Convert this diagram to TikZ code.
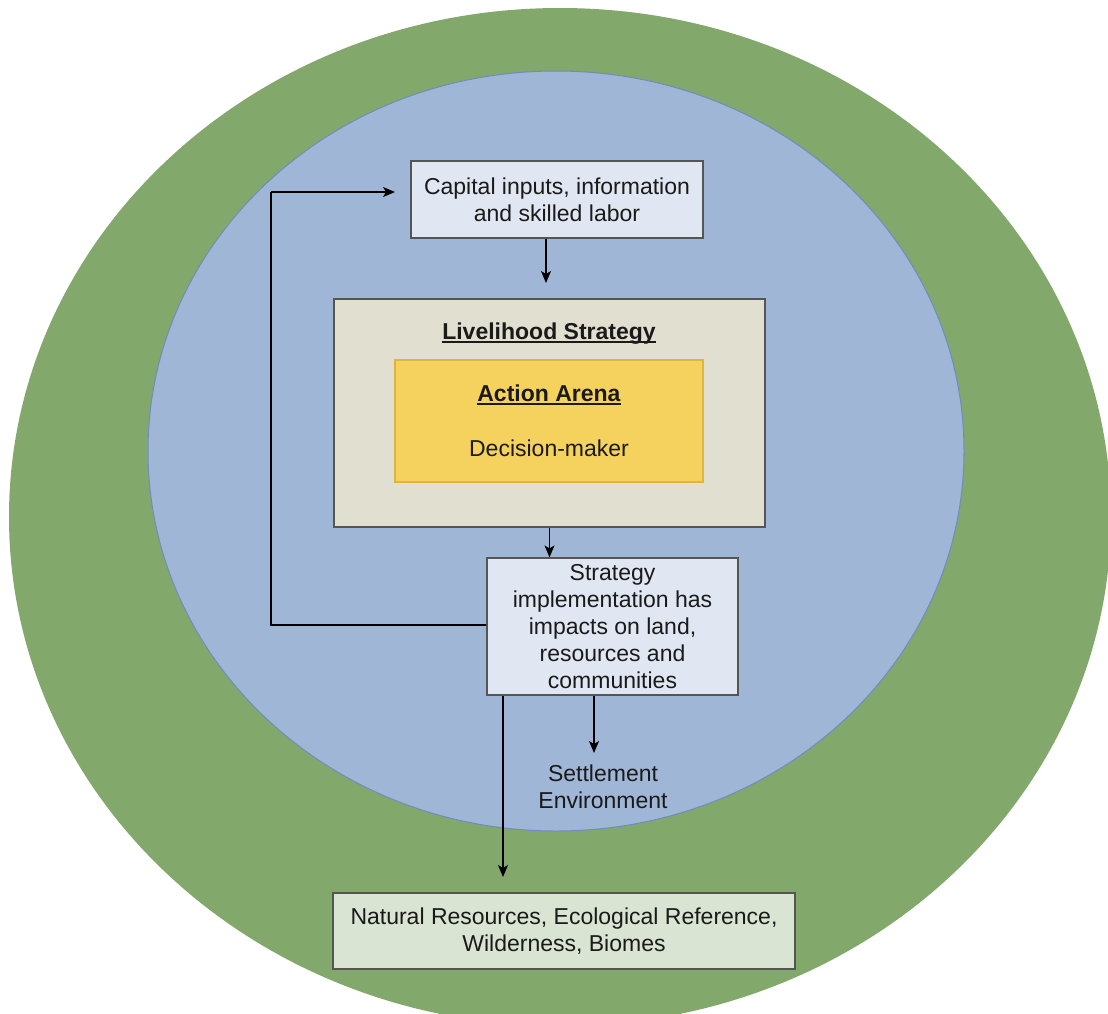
\documentclass[tikz,border=0pt]{standalone}
\usepackage{fontspec}
\setmainfont{Liberation Sans}
\usetikzlibrary{arrows.meta}
\definecolor{outergreen}{HTML}{82A96B}
\definecolor{innerblue}{HTML}{A0B6D6}
\definecolor{innerstroke}{HTML}{6C8EBF}
\definecolor{boxfill}{HTML}{E0E7F2}
\definecolor{lhfill}{HTML}{E1E0D0}
\definecolor{aafill}{HTML}{F5D25D}
\definecolor{aastroke}{HTML}{E3B43A}
\definecolor{natfill}{HTML}{DAE4D2}
\definecolor{boxstroke}{HTML}{555555}
\definecolor{txt}{HTML}{1A1A1A}
\tikzset{
  box/.style={draw=boxstroke, line width=1.2pt, inner sep=0pt, align=center, text=txt,
    font=\fontsize{23pt}{27pt}\selectfont},
  lbl/.style={inner sep=0pt, align=center, text=txt, font=\fontsize{23pt}{27pt}\selectfont},
  arr/.style={draw=black, line width=1.2pt, -{Stealth[length=12pt,width=10pt,inset=3pt]}},
  plain/.style={draw=black, line width=1.2pt},
  uline/.style={draw=txt, line width=1.4pt}
}
\begin{document}
\begin{tikzpicture}[x=1pt,y=-1pt]
\useasboundingbox (0,0) rectangle (1108,1013);
% environment ellipses
\fill[outergreen] (560,517) ellipse [x radius=551, y radius=509];
\filldraw[fill=innerblue, draw=innerstroke, line width=1pt] (556,451) ellipse [x radius=408, y radius=380];
% boxes
\node[box, fill=boxfill, minimum width=292pt, minimum height=77pt] (cap) at (557,199.5)
  {Capital inputs, information\\and skilled labor};
\node[box, fill=lhfill, minimum width=431pt, minimum height=228pt] (lh) at (549.5,413) {};
\node[lbl, anchor=base] (lhtitle) at (549,339.5) {\textbf{Livelihood Strategy}};
\draw[uline] ([yshift=-2.5pt]lhtitle.base west) -- ([yshift=-2.5pt]lhtitle.base east);
\node[box, draw=aastroke, fill=aafill, minimum width=308pt, minimum height=122pt] (aa) at (549,421) {};
\node[lbl, anchor=base] (aatitle) at (549,401.5) {\textbf{Action Arena}};
\draw[uline] ([yshift=-2.5pt]aatitle.base west) -- ([yshift=-2.5pt]aatitle.base east);
\node[lbl] (dm) at (549,448) {Decision-maker};
\node[box, fill=boxfill, minimum width=251pt, minimum height=137pt] (strat) at (612.5,626.5)
  {Strategy\\implementation has\\impacts on land,\\resources and\\communities};
\node[lbl] (settle) at (603,786.5) {Settlement\\Environment};
\node[box, fill=natfill, minimum width=462pt, minimum height=76pt] (nat) at (564,931)
  {Natural Resources, Ecological Reference,\\Wilderness, Biomes};
% connector helper points
\coordinate (captip) at (546,283);
\coordinate (fbcorner) at (271,625);
\coordinate (fbtop) at (271,192);
\coordinate (fbtip) at (395,192);
\coordinate (settletip) at (594,753);
\coordinate (nattip) at (503,877);
% connectors
\draw[arr] (cap.south -| captip) -- (captip);
\draw[arr] (lh.south) -- (lh.south |- strat.north);
\draw[plain] (strat.west |- fbcorner) -- (fbcorner) -- (fbtop);
\draw[arr] (fbtop) -- (fbtip);
\draw[arr] (strat.south -| settletip) -- (settletip);
\draw[arr] (strat.south -| nattip) -- (nattip);
\end{tikzpicture}
\end{document}
